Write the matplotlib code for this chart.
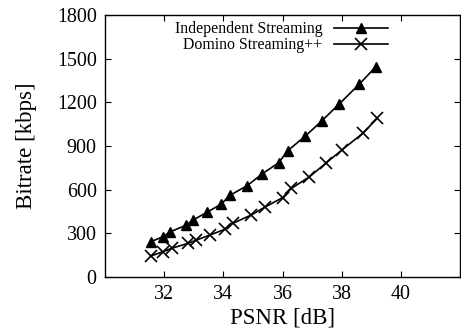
import matplotlib
matplotlib.use("Agg")
import matplotlib.pyplot as plt

plt.rcParams['font.family'] = ['Liberation Serif', 'DejaVu Serif']

# Independent Streaming
indep_psnr = [31.54, 31.96, 32.21, 32.75, 32.97, 33.44, 33.93, 34.21, 34.81,
              35.30, 35.87, 36.17, 36.77, 37.34, 37.91, 38.60, 39.15]
indep_rate = [242, 277, 311, 357, 391, 444, 501, 560, 628,
              707, 785, 867, 968, 1075, 1188, 1326, 1444]

# Domino Streaming++
domino_psnr = [31.54, 31.96, 32.25, 32.80, 33.09, 33.54, 34.04, 34.32, 34.94,
               35.42, 36.00, 36.30, 36.90, 37.47, 38.02, 38.71, 39.20]
domino_rate = [144, 174, 197, 231, 254, 288, 327, 369, 426,
               482, 545, 609, 687, 783, 875, 987, 1090]

xticks = [32, 34, 36, 38, 40]
yticks = [0, 300, 600, 900, 1200, 1500, 1800]

fig = plt.figure(figsize=(4.61, 3.31), dpi=100)
ax = fig.add_axes([0.2278, 0.1631, 0.7702, 0.7916])

ax.plot(indep_psnr, indep_rate, color='black', lw=1.2, marker='^',
        markersize=7, label='Independent Streaming')
ax.plot(domino_psnr, domino_rate, color='black', lw=1.2, marker='x',
        markersize=9, mew=1.2, label='Domino Streaming++')

ax.set_xlim(30, 42)
ax.set_ylim(0, 1800)
ax.set_xticks(xticks)
ax.set_yticks(yticks)
ax.tick_params(direction='in', top=True, right=True, length=4, width=0.8,
               labelsize=14.4, pad=6)
for s in ax.spines.values():
    s.set_linewidth(1.0)

ax.set_xlabel('PSNR [dB]', fontsize=16.5, labelpad=2)
ax.set_ylabel('Bitrate [kbps]', fontsize=16.5, labelpad=14)

ax.legend(loc='upper right', bbox_to_anchor=(0.815, 1.0), frameon=False,
          markerfirst=False, fontsize=11.4, handlelength=3.4,
          handletextpad=0.75, labelspacing=0.0, borderaxespad=0.2,
          borderpad=0.2)

fig.savefig('out.png', dpi=100)
